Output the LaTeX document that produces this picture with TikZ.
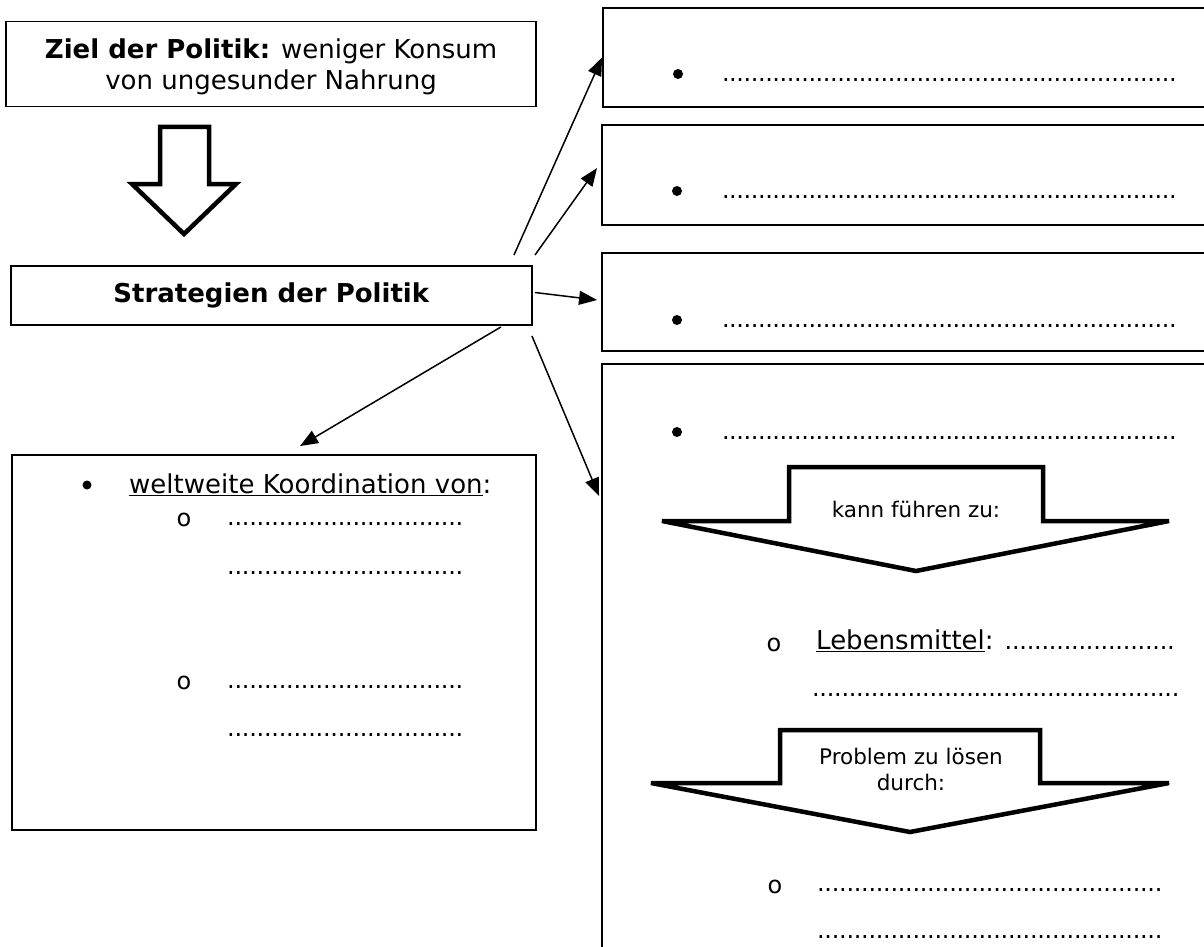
\documentclass[tikz,border=0pt]{standalone}
\usepackage{fontspec}
\setmainfont{DejaVu Sans}
\usetikzlibrary{arrows.meta,calc}
\newcommand\dotrow[1]{\hbox to #1{\fontsize{24}{28}\selectfont\xleaders\hbox to 7.2pt{\hss.\hss}\hfill}}
\begin{document}
\begin{tikzpicture}[x=1pt,y=-1pt,
  box/.style={draw,line width=1.9pt,inner sep=0pt},
  txt/.style={font=\fontsize{26}{31}\selectfont,inner sep=0pt},
  small/.style={font=\fontsize{21.5}{26}\selectfont,inner sep=0pt,align=center},
  conn/.style={line width=1.5pt,-{Triangle[length=18pt,width=14pt]}},
  hollow/.style={line width=4.5pt,line join=miter,miter limit=10},
  bulletdot/.style={circle,fill,inner sep=0pt,minimum size=10pt},
  circ/.style={font=\fontsize{24}{28}\selectfont,inner sep=0pt},
  dotline/.style={inner sep=0pt,anchor=base west}]
\clip (0,0) rectangle (1204,947);
\fill[white] (0,0) rectangle (1204,947);

% left column
\node[box,txt,align=center,text depth=0pt,minimum width=530pt,minimum height=85pt] (Z) at (271,64)
  {\textbf{Ziel der Politik:} weniger Konsum\\von ungesunder Nahrung};
\draw[hollow] (160,127) -- (209,127) -- (209,184) -- (236,184) -- (184,234) -- (132,184) -- (160,184) -- cycle;
\node[box,txt,minimum width=521pt,minimum height=59pt] (S) at (271.5,295.5) {\textbf{Strategien der Politik}};

\node[box,minimum width=524pt,minimum height=375pt] (L) at (274,642.5) {};
\node[bulletdot,minimum size=9pt] (Lb) at (87,485) {};
\node[txt,anchor=base west] (Lt) at (129,493) {\underline{weltweite Koordination von}:};
\node[circ] (Lo1) at (184,520) {o};
\node[dotline] (Ld1) at (227,525.5) {\dotrow{236pt}};
\node[dotline] (Ld2) at (227,574) {\dotrow{236pt}};
\node[circ] (Lo2) at (184,683) {o};
\node[dotline] (Ld3) at (227,688) {\dotrow{236pt}};
\node[dotline] (Ld4) at (227,736.5) {\dotrow{236pt}};

% right column
\node[box,minimum width=612pt,minimum height=99pt] (R1) at (909,57.5) {};
\node[bulletdot] (R1b) at (678,74) {};
\node[dotline] (R1d) at (722,81.5) {\dotrow{454pt}};

\node[box,minimum width=613pt,minimum height=100pt] (R2) at (908.5,175) {};
\node[bulletdot] (R2b) at (677,191) {};
\node[dotline] (R2d) at (722,198) {\dotrow{454pt}};

\node[box,minimum width=613pt,minimum height=98pt] (R3) at (908.5,302) {};
\node[bulletdot] (R3b) at (677,320) {};
\node[dotline] (R3d) at (722,327.5) {\dotrow{454pt}};

\node[box,minimum width=613pt,minimum height=596pt] (R4) at (908.5,662) {};
\node[bulletdot] (R4b) at (677,432) {};
\node[dotline] (R4d) at (722,439) {\dotrow{454pt}};

\draw[hollow] (789,467) -- (1043,467) -- (1043,521) -- (1169,521) -- (916,571) -- (662,521) -- (789,521) -- cycle;
\node[small] (K) at (916,509.5) {kann führen zu:};

\node[circ] (Ro1) at (774,645) {o};
\node[txt,anchor=base west] (Rl) at (816,649) {\underline{Lebensmittel}: \dotrow{170pt}};
\node[dotline] (Rd2) at (812,696.5) {\dotrow{367pt}};

\draw[hollow] (780,730) -- (1040,730) -- (1040,783) -- (1169,783) -- (910,832) -- (651,783) -- (780,783) -- cycle;
\node[small] (P) at (911,769) {Problem zu lösen\\durch:};

\node[circ] (Ro2) at (775,887) {o};
\node[dotline] (Rd3) at (817,891.5) {\dotrow{345pt}};
\node[dotline] (Rd4) at (817,938) {\dotrow{345pt}};

% connectors
\draw[conn] ([shift={(-19,-10)}]S.north east) -- (R1.west);
\draw[conn] ([shift={(2,-10)}]S.north east) -- ([shift={(-4,-7)}]R2.west);
\draw[conn] ([shift={(2,-3)}]S.east) -- ([shift={(-4,-2)}]R3.west);
\draw[conn] ([shift={(-1,10)}]S.south east) -- ([shift={(-2,133)}]R4.north west);
\draw[conn] ([shift={(-32,1)}]S.south east) -- ([shift={(26,-8)}]L.north);
\end{tikzpicture}
\end{document}
